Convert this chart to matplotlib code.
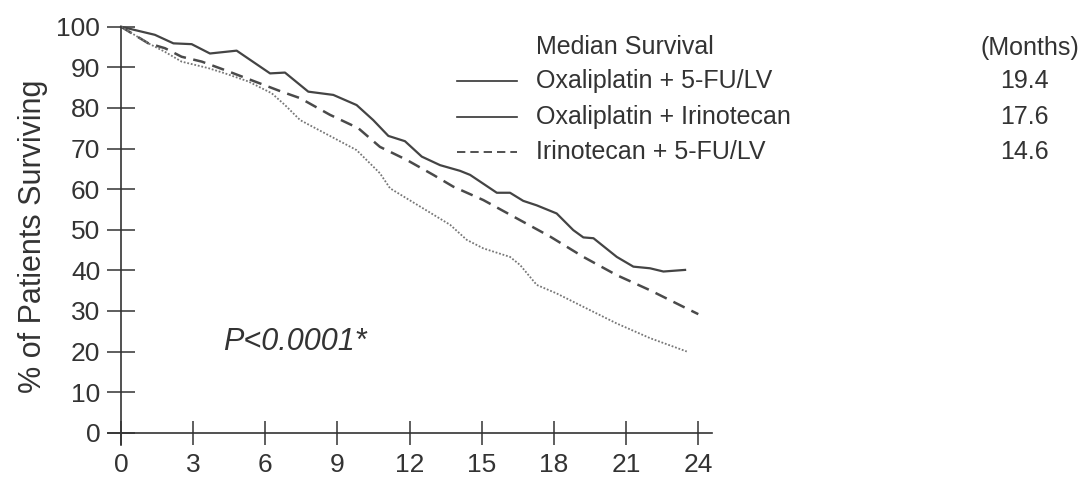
import matplotlib.pyplot as plt
from matplotlib.lines import Line2D

# survival curves (months, % surviving)
folfox_months = [0, 1.41, 2.18, 2.94, 3.70, 4.81, 6.20, 6.82, 7.79, 8.83, 9.80, 10.49,
                 11.12, 11.81, 12.51, 13.27, 14.10, 14.52, 15.63, 16.18, 16.73, 17.29,
                 18.12, 18.81, 19.23, 19.65, 20.62, 21.31, 22.00, 22.56, 23.46]
folfox_surv = [100, 98.0, 95.9, 95.7, 93.4, 94.1, 88.5, 88.7, 84.0, 83.2, 80.7, 77.0,
               73.1, 71.8, 68.0, 65.9, 64.5, 63.5, 59.1, 59.1, 57.1, 56.0,
               54.0, 49.9, 48.1, 47.9, 43.3, 40.9, 40.5, 39.7, 40.1]

ifl_months = [0, 1.14, 1.83, 2.52, 3.36, 4.33, 5.57, 6.68, 7.45, 8.69, 9.87, 10.77,
              11.88, 12.99, 13.82, 15.07, 16.46, 17.85, 19.23, 20.62, 22.00, 23.39, 24.01]
ifl_surv = [100, 95.9, 94.7, 92.6, 91.4, 89.3, 86.5, 84.0, 82.4, 78.3, 75.0, 70.4,
            67.2, 63.5, 60.6, 57.3, 52.8, 48.3, 43.3, 38.8, 35.1, 31.0, 29.2]

irox_months = [0, 1.14, 1.83, 2.52, 3.63, 4.33, 5.30, 6.27, 6.82, 7.45, 8.69, 9.80,
               10.77, 11.19, 12.44, 13.69, 14.38, 15.07, 16.18, 16.60, 17.29, 18.12,
               19.23, 20.62, 22.00, 23.53]
irox_surv = [100, 95.9, 93.8, 91.4, 89.8, 88.5, 86.5, 83.6, 80.7, 77.0, 73.1, 69.6,
             63.9, 60.2, 55.7, 51.2, 47.5, 45.4, 43.3, 41.3, 36.4, 34.3,
             31.0, 26.9, 23.3, 20.0]

legend_labels = ["Oxaliplatin + 5-FU/LV", "Oxaliplatin + Irinotecan", "Irinotecan + 5-FU/LV"]
legend_styles = ["-", "-", (0, (5, 3))]
medians = ["19.4", "17.6", "14.6"]

x_ticks = [0, 3, 6, 9, 12, 15, 18, 21, 24]
y_ticks = [0, 10, 20, 30, 40, 50, 60, 70, 80, 90, 100]

plt.rcParams['font.family'] = ['Liberation Sans', 'DejaVu Sans']
ink = '#333333'

W, H = 1082, 478
fig = plt.figure(figsize=(W / 100, H / 100), dpi=100)


def fx(px):
    return px / W


def fy(py):
    return 1 - py / H


# axes box in pixels: left 108, right 712, top 20, bottom 450
ax = fig.add_axes([fx(108), fy(450), fx(712) - fx(108), fy(20) - fy(450)])
ax.set_xlim(-0.54, 24.58)
ax.set_ylim(-4.26, 101.65)

ax.plot(folfox_months, folfox_surv, color='#444444', lw=1.6, ls='-')
ax.plot(ifl_months, ifl_surv, color='#4a4a4a', lw=1.8, ls=(0, (5, 3)))
ax.plot(irox_months, irox_surv, color='#777777', lw=1.3, ls=(0, (1, 1)))

for side in ['top', 'right']:
    ax.spines[side].set_visible(False)
ax.spines['left'].set_position(('data', 0))
ax.spines['bottom'].set_position(('data', 0))
ax.spines['left'].set_bounds(-3, 100)
for side in ['left', 'bottom']:
    ax.spines[side].set_color(ink)
    ax.spines[side].set_linewidth(1.2)

ax.set_xticks(x_ticks)
ax.set_yticks(y_ticks)
ax.tick_params(axis='x', direction='inout', length=17, width=1.1, color=ink,
               labelsize=19, labelcolor=ink, pad=6)
ax.tick_params(axis='y', direction='inout', length=20, width=1.1, color=ink,
               labelsize=19, labelcolor=ink, pad=5)

fig.text(fx(33), fy(236), "% of Patients Surviving", rotation=90, fontsize=22,
         color=ink, ha='center', va='center')
ax.text(0.19, 0.25, "P<0.0001*", transform=ax.transAxes, fontsize=22,
        style='italic', color=ink, ha='left', va='center')

# legend block with median survival column
fig.text(fx(536), fy(47), "Median Survival", fontsize=18, color=ink, va='center')
fig.text(fx(1030), fy(48), "(Months)", fontsize=18, color=ink, va='center', ha='center')
row_y = [81, 117, 152]
for lab, ls, med, py in zip(legend_labels, legend_styles, medians, row_y):
    fig.add_artist(Line2D([fx(457), fx(517)], [fy(py), fy(py)], color=ink, lw=1.2, ls=ls))
    fig.text(fx(536), fy(py), lab, fontsize=18, color=ink, va='center')
    fig.text(fx(1024), fy(py), med, fontsize=18, color=ink, va='center', ha='center')

fig.savefig('out.png', dpi=100)
